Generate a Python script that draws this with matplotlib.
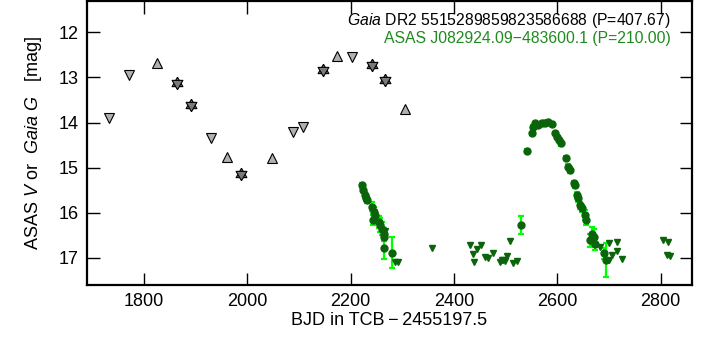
import matplotlib
matplotlib.use('Agg')
import matplotlib.pyplot as plt
import numpy as np

plt.rcParams['font.family'] = ['Liberation Sans', 'DejaVu Sans']
plt.rcParams['mathtext.fontset'] = 'custom'
plt.rcParams['mathtext.rm'] = 'Liberation Sans'
plt.rcParams['mathtext.it'] = 'Liberation Sans:italic'

# Gaia DR2 photometry, by marker type
gaia_down_t = [1732, 1771, 1930, 2089, 2108, 2203]
gaia_down_m = [13.91, 12.95, 14.35, 14.22, 14.09, 12.54]
gaia_up_t = [1826, 1961, 2048, 2173, 2306]
gaia_up_m = [12.69, 14.76, 14.78, 12.53, 13.69]
gaia_both_t = [1863, 1891, 1988, 2146, 2242, 2266]
gaia_both_m = [13.13, 13.61, 15.13, 12.84, 12.73, 13.06]

# ASAS V detections (with errors)
asas_t = [2221, 2224, 2228, 2230, 2231, 2241, 2245, 2248, 2244, 2254, 2257,
          2260, 2264, 2265, 2264, 2280,
          2530,
          2542, 2550, 2553, 2557, 2563, 2570, 2576, 2582, 2589,
          2595, 2600, 2604, 2607, 2617, 2621, 2624, 2632, 2634, 2638, 2640,
          2644, 2647, 2654, 2656, 2667, 2670, 2663, 2673, 2690, 2694]
asas_m = [15.39, 15.50, 15.61, 15.68, 15.72, 15.87, 15.98, 16.05, 16.16, 16.20, 16.27,
          16.35, 16.46, 16.53, 16.77, 16.88,
          16.28,
          14.62, 14.24, 14.09, 14.02, 14.06, 14.00, 14.00, 13.98, 14.03,
          14.24, 14.31, 14.39, 14.46, 14.79, 14.98, 15.05, 15.35, 15.39, 15.61, 15.68,
          15.83, 15.90, 16.05, 16.16, 16.46, 16.53, 16.61, 16.68, 16.90, 17.05]
asas_e = [0.05, 0.05, 0.06, 0.06, 0.06, 0.10, 0.10, 0.12, 0.12, 0.14, 0.15,
          0.15, 0.12, 0.10, 0.25, 0.34,
          0.20,
          0.04, 0.04, 0.04, 0.04, 0.04, 0.04, 0.04, 0.04, 0.04,
          0.04, 0.04, 0.05, 0.05, 0.05, 0.06, 0.06, 0.06, 0.06, 0.07, 0.07,
          0.08, 0.08, 0.12, 0.10, 0.14, 0.18, 0.15, 0.14, 0.12, 0.38]

# ASAS upper limits
lim_t = [2267, 2286, 2292, 2357, 2431, 2436, 2439, 2444, 2453, 2460, 2466, 2476,
         2489, 2492, 2495, 2498, 2502, 2508, 2515, 2521,
         2682, 2699, 2700, 2705, 2715, 2715, 2725, 2804, 2813, 2815, 2818]
lim_m = [16.40, 17.08, 17.08, 16.78, 16.72, 16.92, 17.09, 16.80, 16.72, 16.98, 16.99, 16.90,
         17.09, 17.05, 17.05, 17.07, 16.96, 16.62, 17.11, 17.07,
         16.75, 16.66, 17.05, 16.94, 16.64, 16.85, 17.03, 16.61, 16.94, 16.64, 16.96]

# centroid-centred triangles, so up+down overlap into a hexagram
tri_up = [(0, 1), (-0.866, -0.5), (0.866, -0.5), (0, 1)]
tri_dn = [(0, -1), (-0.866, 0.5), (0.866, 0.5), (0, -1)]

fig = plt.figure(figsize=(7.18, 3.41), dpi=100)
ax = fig.add_axes([0.1207, 0.164, 0.8427, 0.833])

dgreen = '#0b640b'
ax.errorbar(asas_t, asas_m, yerr=asas_e, fmt='o', color=dgreen, ms=5,
            ecolor='#00ff00', elinewidth=1.6, capsize=2.5, capthick=1.6, zorder=3)
ax.plot(lim_t, lim_m, 'v', color=dgreen, ms=4.5, ls='none', zorder=3)

gkw = dict(ls='none', mec='black', mew=0.8, zorder=4)
ax.plot(gaia_down_t, gaia_down_m, 'v', mfc='#b0b0b0', ms=7, **gkw)
ax.plot(gaia_up_t, gaia_up_m, '^', mfc='#b0b0b0', ms=7, **gkw)
ax.plot(gaia_both_t, gaia_both_m, marker=tri_up, mfc='#7a7a7a', ms=9, **gkw)
ax.plot(gaia_both_t, gaia_both_m, marker=tri_dn, mfc='#7a7a7a', ms=9, **gkw)

ax.set_xlim(1689, 2860)
ax.set_ylim(17.6, 11.31)
ax.set_xticks([1800, 2000, 2200, 2400, 2600, 2800])
ax.set_yticks([12, 13, 14, 15, 16, 17])
ax.tick_params(direction='in', length=9, width=1, labelsize=13,
               top=True, right=True, pad=6)
for s in ax.spines.values():
    s.set_linewidth(1.6)

ax.set_xlabel('BJD in TCB\u2009\u2212\u20092455197.5', fontsize=13, labelpad=1)
ax.set_ylabel(r'ASAS $V$ or  $Gaia$ $G$   [mag]', fontsize=13, labelpad=10)

ax.text(0.965, 0.965, r'$Gaia$ DR2 5515289859823586688 (P=407.67)',
        transform=ax.transAxes, ha='right', va='top', fontsize=11.3, color='black')
ax.text(0.965, 0.893, 'ASAS J082924.09\u2212483600.1 (P=210.00)',
        transform=ax.transAxes, ha='right', va='top', fontsize=11.3, color='#1f8a1f')

fig.savefig('out.png', dpi=100)
